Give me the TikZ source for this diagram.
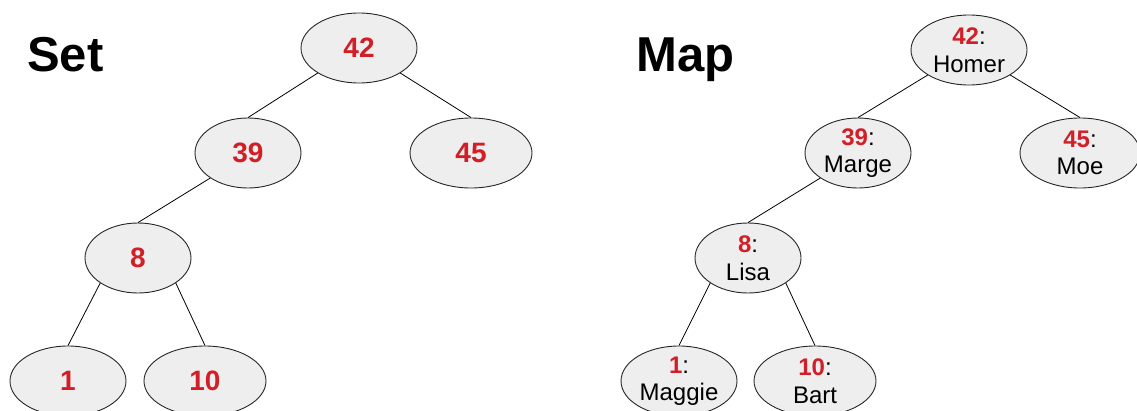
\documentclass[tikz,border=0pt]{standalone}
\usepackage{fontspec}
\setmainfont{Liberation Sans}
\usetikzlibrary{shapes.geometric}
\definecolor{keyred}{RGB}{210,30,38}
\definecolor{nodefill}{RGB}{238,238,238}
\begin{document}
\begin{tikzpicture}[x=1pt,y=-1pt,
  treenode/.style={ellipse, draw=black!85, line width=0.9pt, fill=nodefill,
    inner sep=0pt, minimum height=70pt, align=center},
  setnode/.style={treenode, font=\fontsize{28}{32}\selectfont\bfseries, text=keyred},
  mapnode/.style={treenode, font=\fontsize{24}{27.5}\selectfont},
  edge/.style={line width=0.8pt, black},
  heading/.style={font=\fontsize{49}{56}\selectfont\bfseries, anchor=base west, inner sep=0pt}]
\useasboundingbox (0,0) rectangle (1137,410);
\newcommand{\kv}[2]{\textcolor{keyred}{\bfseries #1}:\\#2}

% headings
\node[heading] (settitle) at (27,71) {Set};
\node[heading] (maptitle) at (636,71) {Map};

% set tree
\node[setnode, minimum width=116pt] (s42) at (359,48) {42};
\node[setnode, minimum width=106pt] (s39) at (248,153) {39};
\node[setnode, minimum width=122pt] (s45) at (471,153) {45};
\node[setnode, minimum width=106pt] (s8)  at (138,258) {8};
\node[setnode, minimum width=116pt] (s1)  at (68,381) {1};
\node[setnode, minimum width=122pt] (s10) at (205,381) {10};
\draw[edge] (s42.south west) -- (s39.north);
\draw[edge] (s42.south east) -- (s45.north);
\draw[edge] (s39.south west) -- (s8.north);
\draw[edge] (s8.south west) -- (s1.north);
\draw[edge] (s8.south east) -- (s10.north);

% map tree
\node[mapnode, minimum width=116pt] (m42) at (969,50) {\kv{42}{Homer}};
\node[mapnode, minimum width=106pt] (m39) at (858,153) {\kv{39}{Marge}};
\node[mapnode, minimum width=120pt] (m45) at (1080,153) {\kv{45}{Moe}};
\node[mapnode, minimum width=106pt] (m8)  at (748,258) {\kv{8}{Lisa}};
\node[mapnode, minimum width=116pt] (m1)  at (679,381) {\kv{1}{Maggie}};
\node[mapnode, minimum width=122pt] (m10) at (815,381) {\kv{10}{Bart}};
\draw[edge] (m42.south west) -- (m39.north);
\draw[edge] (m42.south east) -- (m45.north);
\draw[edge] (m39.south west) -- (m8.north);
\draw[edge] (m8.south west) -- (m1.north);
\draw[edge] (m8.south east) -- (m10.north);
\end{tikzpicture}
\end{document}
